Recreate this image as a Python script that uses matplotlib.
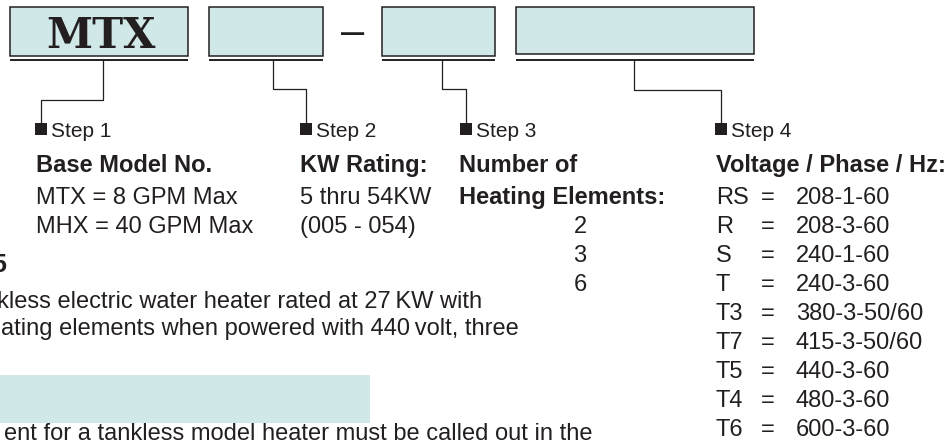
import matplotlib
matplotlib.use("Agg")
import matplotlib.pyplot as plt
from matplotlib.patches import Rectangle

matplotlib.rcParams.update({
    "font.family": ["Liberation Sans", "DejaVu Sans"],
})

INK = "#231f20"
FILL = "#d1e8e9"

# ---- content -----------------------------------------------------------
BOX_TEXT = ["MTX", "", "", ""]
STEPS = ["Step 1", "Step 2", "Step 3", "Step 4"]
HEADINGS = [["Base Model No."], ["KW Rating:"], ["Number of", "Heating Elements:"],
            ["Voltage / Phase / Hz:"]]
MODEL_OPTIONS = ["MTX = 8 GPM Max", "MHX = 40 GPM Max"]
KW_OPTIONS = ["5 thru 54KW", "(005 - 054)"]
ELEMENT_COUNTS = ["2", "3", "6"]
VOLT_CODES = ["RS", "R", "S", "T", "T3", "T7", "T5", "T4", "T6"]
VOLT_VALUES = ["208-1-60", "208-3-60", "240-1-60", "240-3-60", "380-3-50/60",
               "415-3-50/60", "440-3-60", "480-3-60", "600-3-60"]
EXAMPLE_HEAD = "5"
EXAMPLE_LINES = ["kless electric water heater rated at 27\u2009KW with",
                 "ating elements when powered with 440\u2009volt, three"]
NOTE_LINE = "ent for a tankless model heater must be called out in the"

# ---- layout (pixel coordinates, y down) --------------------------------
BOXES = [(10, 188, 56), (209, 323, 56), (382, 495, 56), (516, 754, 54)]
BOX_TOP = 7
UNDERLINE_Y = 60
# connector: start x at underline, elbow y, marker x
CONNECT = [(103, 100, 41), (273, 89, 306), (442, 89, 466), (634, 90, 721)]
MARKER_TOP = 123
COL_X = [36, 300, 459, 716]
STEP_BASE = 137
HEAD_BASE = 172
ROW0 = 204
ROW_GAP = 29.0
FS = 17


def main():
    fig = plt.figure(figsize=(9.5, 4.4), dpi=100)
    ax = fig.add_axes([0, 0, 1, 1])
    ax.set_xlim(0, 950)
    ax.set_ylim(440, 0)
    ax.axis("off")

    # code boxes with underlines
    for (x0, x1, yb), label in zip(BOXES, BOX_TEXT):
        ax.add_patch(Rectangle((x0, BOX_TOP), x1 - x0, yb - BOX_TOP,
                               facecolor=FILL, edgecolor=INK, linewidth=1.1))
        ax.plot([x0, x1], [UNDERLINE_Y, UNDERLINE_Y], color=INK, linewidth=1.4,
                solid_capstyle="butt")
        if label:
            ax.text((x0 + x1) / 2 + 2, yb - 8, label, ha="center", va="baseline",
                    fontsize=30, fontweight="bold", family="DejaVu Serif",
                    color=INK)

    ax.text(353, 44, "\u2013", ha="center", va="baseline", fontsize=30, color=INK)

    # connectors and step markers
    for (xs, ye, xm), step, cx in zip(CONNECT, STEPS, COL_X):
        ax.plot([xs, xs, xm, xm], [UNDERLINE_Y, ye, ye, MARKER_TOP],
                color=INK, linewidth=0.9)
        ax.add_patch(Rectangle((xm - 6, MARKER_TOP), 12, 12, facecolor=INK,
                               edgecolor="none"))
        ax.text(xm + 10, STEP_BASE, step, ha="left", va="baseline",
                fontsize=15, color=INK)

    # headings
    for cx, lines in zip(COL_X, HEADINGS):
        for i, line in enumerate(lines):
            y = HEAD_BASE if i == 0 else ROW0
            ax.text(cx, y, line, ha="left", va="baseline", fontsize=FS,
                    fontweight="bold", color=INK)

    rows = [ROW0 + i * ROW_GAP for i in range(len(VOLT_CODES))]

    for i, s in enumerate(MODEL_OPTIONS):
        ax.text(COL_X[0], rows[i], s, ha="left", va="baseline", fontsize=FS,
                color=INK)
    for i, s in enumerate(KW_OPTIONS):
        ax.text(COL_X[1], rows[i], s, ha="left", va="baseline", fontsize=FS,
                color=INK)
    for i, s in enumerate(ELEMENT_COUNTS):
        ax.text(580, rows[i + 1], s, ha="center", va="baseline", fontsize=FS,
                color=INK)
    for i, (code, val) in enumerate(zip(VOLT_CODES, VOLT_VALUES)):
        ax.text(COL_X[3], rows[i], code, ha="left", va="baseline", fontsize=FS,
                color=INK)
        ax.text(768, rows[i], "=", ha="center", va="baseline", fontsize=FS,
                color=INK)
        ax.text(796, rows[i], val, ha="left", va="baseline", fontsize=FS,
                color=INK)

    # example / note text cut off at the left edge
    ax.text(6, 272, EXAMPLE_HEAD, ha="right", va="baseline", fontsize=18,
            fontweight="bold", color=INK)
    for y, line, xr in zip([308, 335], EXAMPLE_LINES, [482, 519]):
        ax.text(xr, y, line, ha="right", va="baseline", fontsize=FS, color=INK)
    ax.add_patch(Rectangle((0, 375), 370, 48, facecolor=FILL, edgecolor="none"))
    ax.text(592, 440, NOTE_LINE, ha="right", va="baseline", fontsize=FS,
            color=INK)

    fig.savefig("out.png", dpi=100)
    plt.close(fig)


if __name__ == "__main__":
    main()
